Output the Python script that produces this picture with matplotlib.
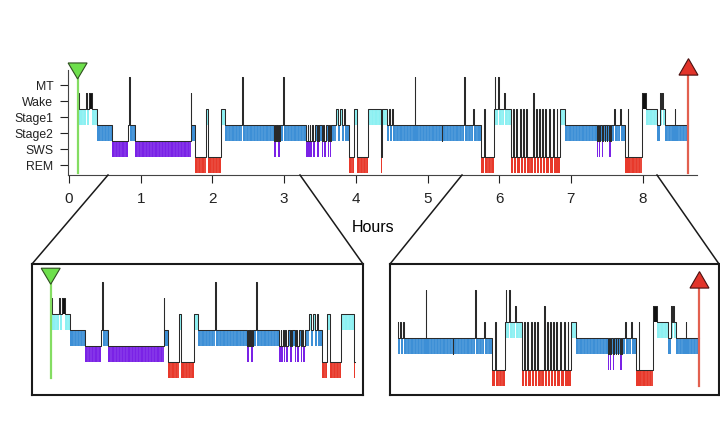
#!/bin/python
# hipnograma de una noche con dos ampliaciones debajo

import numpy as np
from matplotlib import pyplot as plt
from matplotlib.patches import Polygon
from matplotlib.lines import Line2D

plt.rcParams['font.family'] = ['Liberation Sans', 'DejaVu Sans']

estadios = ['REM', 'SWS', 'Stage2', 'Stage1', 'Wake', 'MT']
horas = [0, 1, 2, 3, 4, 5, 6, 7, 8]

# inicio de cada epoca (horas) y estadio
t_cambio = [0.120, 0.145, 0.235, 0.255, 0.282, 0.322, 0.395, 0.595, 0.828, 0.836,
            0.846, 0.920, 1.697, 1.707, 1.757, 1.906, 1.943, 2.120, 2.176, 2.415,
            2.425, 2.860, 2.870, 2.878, 2.888, 2.896, 2.906, 2.915, 2.925, 2.933,
            2.940, 2.985, 2.995, 3.305, 3.330, 3.338, 3.360, 3.368, 3.390, 3.398,
            3.430, 3.455, 3.470, 3.478, 3.490, 3.525, 3.545, 3.553, 3.585, 3.610,
            3.630, 3.638, 3.660, 3.720, 3.745, 3.780, 3.805, 3.830, 3.850, 3.900,
            3.970, 4.010, 4.170, 4.350, 4.370, 4.440, 4.465, 4.478, 4.505, 4.517,
            4.820, 4.830, 5.200, 5.208, 5.510, 5.520, 5.640, 5.652, 5.740, 5.785,
            5.795, 5.930, 5.940, 5.948, 5.985, 5.993, 6.065, 6.075, 6.160, 6.190,
            6.202, 6.240, 6.252, 6.290, 6.302, 6.330, 6.342, 6.370, 6.382, 6.475,
            6.487, 6.520, 6.532, 6.560, 6.572, 6.600, 6.612, 6.645, 6.657, 6.690,
            6.702, 6.750, 6.762, 6.800, 6.812, 6.850, 6.920, 7.370, 7.380, 7.395,
            7.403, 7.440, 7.450, 7.470, 7.478, 7.500, 7.510, 7.535, 7.545, 7.552,
            7.558, 7.600, 7.612, 7.680, 7.692, 7.750, 7.790, 7.800, 7.990, 8.050,
            8.200, 8.240, 8.255, 8.270, 8.282, 8.310, 8.445, 8.457]
estadio = ['Wake', 'Stage1', 'Wake', 'Stage1', 'Wake', 'Stage1', 'Stage2', 'SWS', 'Stage2', 'MT',
           'Stage2', 'SWS', 'Wake', 'Stage2', 'REM', 'Stage1', 'REM', 'Stage1', 'Stage2', 'MT',
           'Stage2', 'SWS', 'Stage2', 'SWS', 'Stage2', 'SWS', 'Stage2', 'SWS', 'Stage2', 'SWS',
           'Stage2', 'MT', 'Stage2', 'SWS', 'Stage2', 'SWS', 'Stage2', 'SWS', 'Stage2', 'SWS',
           'Stage2', 'SWS', 'Stage2', 'SWS', 'Stage2', 'SWS', 'Stage2', 'SWS', 'Stage2', 'SWS',
           'Stage2', 'SWS', 'Stage2', 'Stage1', 'Stage2', 'Stage1', 'Stage2', 'Stage1', 'Stage2', 'REM',
           'Stage1', 'REM', 'Stage1', 'REM', 'Stage1', 'Stage2', 'Stage1', 'Stage2', 'Stage1', 'Stage2',
           'MT', 'Stage2', 'SWS', 'Stage2', 'MT', 'Stage2', 'Stage1', 'Stage2', 'REM', 'Stage1',
           'REM', 'Stage1', 'MT', 'Stage1', 'MT', 'Stage1', 'Wake', 'Stage1', 'REM', 'Stage1',
           'REM', 'Stage1', 'REM', 'Stage1', 'REM', 'Stage1', 'REM', 'Stage1', 'REM', 'Wake',
           'REM', 'Stage1', 'REM', 'Stage1', 'REM', 'Stage1', 'REM', 'Stage1', 'REM', 'Stage1',
           'REM', 'Stage1', 'REM', 'Stage1', 'REM', 'Stage1', 'Stage2', 'SWS', 'Stage2', 'SWS',
           'Stage2', 'SWS', 'Stage2', 'SWS', 'Stage2', 'SWS', 'Stage2', 'SWS', 'Stage2', 'SWS',
           'Stage2', 'Stage1', 'Stage2', 'Stage1', 'Stage2', 'REM', 'Stage1', 'REM', 'Wake', 'Stage1',
           'Stage2', 'Wake', 'Stage1', 'Wake', 'Stage1', 'Stage2', 'Stage1', 'Stage2']
t_fin = 8.64
t_apagado = 0.12   # luces apagadas (triangulo verde)
t_encendido = 8.64  # luces encendidas (triangulo rojo)

colores = {'REM': '#e8392b', 'SWS': '#7a22e6', 'Stage2': '#3d8fd6',
           'Stage1': '#8cf0f2', 'Wake': '#111111', 'MT': '#111111'}
nivel = {e: i for i, e in enumerate(estadios)}

W, H = 720, 437
fig = plt.figure(figsize=(7.2, 4.37), dpi=100)


def eje(x0, y0, x1, y1):
    # ejes en pixeles de la figura (y desde arriba)
    return fig.add_axes([x0 / W, (H - y1) / H, (x1 - x0) / W, (y1 - y0) / H])


def dibujar(ax, t_a, t_b):
    t = np.array(t_cambio + [t_fin])
    niv = np.array([nivel[e] for e in estadio])
    ini = np.clip(t[:-1], t_a, t_b)
    fin = np.clip(t[1:], t_a, t_b)
    ok = np.where(fin > ini)[0]
    for i in ok:
        col = colores[estadio[i]]
        ax.bar(ini[i], 1, width=fin[i] - ini[i], bottom=niv[i] - 0.5, align='edge',
               color=col, linewidth=0, zorder=2)
        if fin[i] - ini[i] > 0.06 and estadio[i] not in ('Wake', 'MT'):
            rayas = np.arange(ini[i] + 0.045, fin[i] - 0.01, 0.045)
            ax.vlines(rayas, niv[i] - 0.5, niv[i] + 0.5, color='white', lw=0.3,
                      alpha=0.4, zorder=2.5)
    xs = np.r_[ini[ok], fin[ok][-1]]
    ys = np.r_[niv[ok], niv[ok][-1]] + 0.5
    ax.step(xs, ys, where='post', color='#2a2a2a', lw=0.75, zorder=3)


def marcas(ax, t_verde, t_rojo):
    a = 9.5 / 71.7
    if t_verde is not None:
        ax.plot([t_verde, t_verde], [-0.5, 5.4], color='#84dd62', lw=1.6, zorder=4,
                clip_on=False)
        ax.add_patch(Polygon([[t_verde - a, 6.38], [t_verde + a, 6.38], [t_verde, 5.38]],
                             closed=True, fc='#6ee04c', ec='#2f4f20', lw=0.8,
                             zorder=5, clip_on=False))
    if t_rojo is not None:
        ax.plot([t_rojo, t_rojo], [-0.5, 5.62], color='#e2604f', lw=1.6, zorder=4,
                clip_on=False)
        ax.add_patch(Polygon([[t_rojo - a, 5.62], [t_rojo + a, 5.62], [t_rojo, 6.65]],
                             closed=True, fc='#e2342a', ec='#4a1010', lw=0.8,
                             zorder=5, clip_on=False))


# grafico principal
ax = eje(68, 70, 697, 175)
dibujar(ax, 0, t_fin)
marcas(ax, t_apagado, t_encendido)
ax.set_xlim(-1 / 71.7, 628 / 71.7)
ax.set_ylim(-0.625, 5.94)
ax.set_yticks(range(len(estadios)))
ax.set_yticklabels(estadios, fontsize=8.8)
ax.set_xticks(horas)
ax.set_xticklabels([str(h) for h in horas], fontsize=11)
ax.tick_params(axis='y', length=5.5, width=0.8, pad=5, colors='#222222')
ax.tick_params(axis='x', length=5.5, width=0.8, pad=7, colors='#222222')
for s in ['top', 'right']:
    ax.spines[s].set_visible(False)
for s in ['left', 'bottom']:
    ax.spines[s].set_linewidth(0.8)
    ax.spines[s].set_color('#444444')
fig.text(373 / W, 1 - 228 / H, 'Hours', fontsize=11.5, ha='center', va='center')

# ampliacion izquierda
axi = eje(32, 264, 363, 395)
dibujar(axi, 0, 4.37)
marcas(axi, t_apagado, None)
axi.set_xlim((32 - 42.1) / 71.7, (363 - 42.1) / 71.7)
axi.set_ylim((370.3 - 395) / 16, (370.3 - 264) / 16)

# ampliacion derecha
axd = eje(390, 264, 719, 395)
dibujar(axd, 4.43, t_fin)
marcas(axd, None, t_encendido)
axd.set_xlim((390 - 80) / 71.7, (719 - 80) / 71.7)
axd.set_ylim((378 - 395) / 16, (378 - 264) / 16)

for a in [axi, axd]:
    a.set_xticks([])
    a.set_yticks([])
    for s in a.spines.values():
        s.set_linewidth(1.5)
        s.set_color('#1a1a1a')

# lineas que unen el grafico con las ampliaciones
uniones = [((108, 175), (32, 264)), ((300, 175), (363, 264)),
           ((462, 175), (390, 264)), ((657, 175), (719, 264))]
for (xa, ya), (xb, yb) in uniones:
    fig.add_artist(Line2D([xa / W, xb / W], [1 - ya / H, 1 - yb / H], color='#1a1a1a',
                          lw=1.1, transform=fig.transFigure))

plt.savefig('out.png', dpi=100)
